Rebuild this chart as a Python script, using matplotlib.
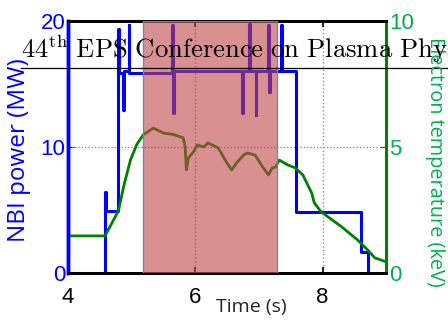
import numpy as np
import matplotlib.pyplot as plt
from matplotlib.lines import Line2D

# NBI power (MW), step trace (steps-post)
nbi_t = [4.0, 4.58, 4.59, 4.79, 4.80, 4.87, 4.88, 4.95, 4.96, 5.64, 5.65, 5.66,
         6.74, 6.75, 6.85, 6.86, 6.95, 6.96, 7.15, 7.16, 7.17, 7.35, 7.36,
         7.59, 8.61, 8.71, 9.0]
nbi_p = [0.0, 6.4, 4.9, 19.4, 15.9, 12.9, 16.0, 19.7, 15.9, 19.7, 12.7, 16.0,
         12.7, 16.0, 19.8, 16.0, 12.5, 16.0, 19.7, 14.4, 16.0, 19.7, 16.0,
         4.8, 1.7, 0.0, 0.0]

# electron temperature (keV)
te_t = [4.0, 4.58, 4.79, 4.88, 4.98, 5.08, 5.18, 5.34, 5.50, 5.65, 5.81, 5.84,
        5.86, 5.89, 5.97, 6.03, 6.13, 6.20, 6.36, 6.47, 6.57, 6.66, 6.76, 6.82,
        6.94, 7.06, 7.15, 7.21, 7.26, 7.32, 7.45, 7.57, 7.69, 7.83, 7.87, 7.98,
        8.30, 8.55, 8.71, 8.82, 9.0]
te_k = [1.47, 1.47, 2.46, 3.5, 4.48, 5.1, 5.48, 5.75, 5.55, 5.5, 5.36, 5.0,
        4.09, 4.56, 4.8, 5.08, 5.0, 5.16, 4.96, 4.48, 4.09, 4.4, 4.68, 4.76,
        4.68, 4.2, 3.89, 4.17, 4.2, 4.48, 4.29, 4.17, 3.89, 3.17, 2.78, 2.42,
        1.83, 1.31, 0.91, 0.6, 0.44]

shade = (5.17, 7.28)

blue = '#0000ff'
green = '#008000'
lgreen = '#00b050'

fig = plt.figure(figsize=(4.48, 3.23), dpi=100)
ax = fig.add_axes([0.152, 0.155, 0.710, 0.780])
ax2 = ax.twinx()

ax.grid(True, axis='x', color='#909090', linestyle=':', linewidth=1.0)
ax.axhline(10, color='#7070ff', linestyle=':', linewidth=0.9)
ax.plot(nbi_t, nbi_p, color=blue, linewidth=2.2, drawstyle='steps-post')

ax2.plot(te_t, te_k, color=green, linewidth=2.0)
ax2.axvspan(shade[0], shade[1], facecolor=(0.753, 0.275, 0.275, 0.6),
            edgecolor='#6a8ab8', linewidth=1.0, zorder=5)

ax.set_xlim(4, 9)
ax.set_ylim(0, 20)
ax2.set_ylim(0, 10)
ax.set_xticks([4, 6, 8])
ax.set_yticks([0, 10, 20])
ax2.set_yticks([0, 5, 10])

ax.tick_params(axis='x', direction='in', top=True, length=4, width=1.2,
               labelsize=16, pad=10)
ax.tick_params(axis='y', direction='in', colors=blue, length=4, labelsize=16, pad=2)
ax2.tick_params(axis='y', direction='in', colors=green, labelcolor=lgreen,
                length=4, labelsize=16, pad=2)
for lab in ax.get_xticklabels() + ax.get_yticklabels() + ax2.get_yticklabels():
    lab.set_family('Liberation Sans')

for a in (ax, ax2):
    a.spines['top'].set_linewidth(2)
    a.spines['bottom'].set_linewidth(2)
    a.spines['left'].set_color(blue)
    a.spines['left'].set_linewidth(2.5)
    a.spines['right'].set_color(green)
    a.spines['right'].set_linewidth(2)

fig.text(0.042, 0.536, 'NBI power (MW)', color=blue, rotation=90,
         ha='center', va='center', fontsize=17.5, family='Open Sans')
fig.text(0.971, 0.50, 'Electron temperature (keV)', color=lgreen, rotation=270,
         ha='center', va='center', fontsize=14.3, family='Open Sans')
fig.text(0.562, 0.050, 'Time (s)', color='#222222', ha='center', va='center',
         fontsize=14, family='Open Sans')

# conference banner across the top, runs off the right edge like the original
plt.rcParams['mathtext.fontset'] = 'cm'
fig.text(0.047, 0.820, r'$44^{\rm th}\ \rm EPS\ Conference\ on\ Plasma\ Physics$',
         fontsize=19.2, ha='left', va='baseline', zorder=10)
fig.add_artist(Line2D([0.047, 1.0], [0.789, 0.789], color='k', linewidth=0.9))

fig.savefig('out.png', dpi=100)
